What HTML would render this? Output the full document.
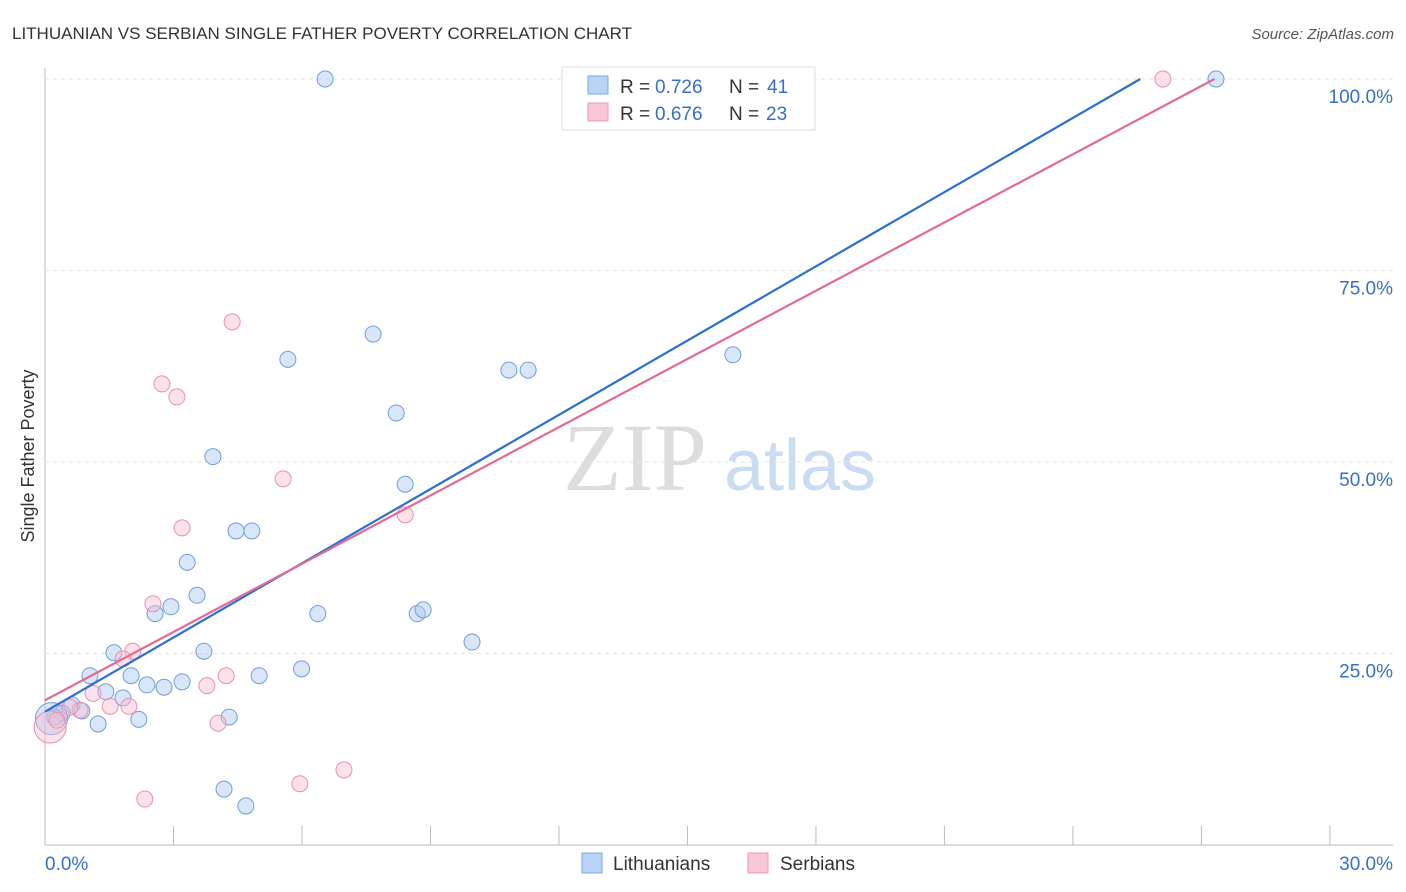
<!DOCTYPE html>
<html><head><meta charset="utf-8"><style>
body{margin:0;background:#fff;font-family:"Liberation Sans",sans-serif;}
#c{position:relative;width:1406px;height:892px;overflow:hidden}
</style></head><body>
<div id="c">
<svg id="s" width="1406" height="892">
<text x="12" y="39" font-size="17" fill="#333">LITHUANIAN VS SERBIAN SINGLE FATHER POVERTY CORRELATION CHART</text>
<text x="1394" y="39" font-size="15" fill="#555" text-anchor="end" font-style="italic">Source: ZipAtlas.com</text>
<text x="635" y="490" font-size="96" fill="#ddd" font-family="Liberation Serif" text-anchor="middle">ZIP</text>
<text x="800" y="490" font-size="72" fill="#c9dcf2" text-anchor="middle">atlas</text>
<text transform="translate(34,456) rotate(-90)" font-size="18" fill="#333" text-anchor="middle">Single Father Poverty</text>
<g id="grid"></g><g id="pts"></g><g id="lines"></g>
<g>
<rect x="562" y="67" width="253" height="63" fill="#fff" stroke="#ddd"/>
<rect x="588" y="76" width="20" height="18" fill="#b8d3f5" stroke="#7aa8e3"/>
<rect x="588" y="103" width="20" height="18" fill="#f9c6d6" stroke="#ee9ab4"/>
<text x="620" y="93" font-size="19" fill="#333">R =</text>
<text x="655" y="93" font-size="19" fill="#3570c8">0.726</text>
<text x="729" y="93" font-size="19" fill="#333">N =</text>
<text x="767" y="93" font-size="19" fill="#3570c8">41</text>
<text x="620" y="120" font-size="19" fill="#333">R =</text>
<text x="655" y="120" font-size="19" fill="#3570c8">0.676</text>
<text x="729" y="120" font-size="19" fill="#333">N =</text>
<text x="766" y="120" font-size="19" fill="#3570c8">23</text>
</g>
<g>
<rect x="582" y="853" width="20" height="20" fill="#b8d3f5" stroke="#7aa8e3"/>
<text x="613" y="870" font-size="19" fill="#333">Lithuanians</text>
<rect x="748" y="853" width="20" height="20" fill="#f9c6d6" stroke="#ee9ab4"/>
<text x="780" y="870" font-size="19" fill="#333">Serbians</text>
</g>
</svg></div>
<script>
const xTicks=[0,3,6,9,12,15,18,21,24,27,30];
const yTicks=[25,50,75,100];
const litX=[6.54,27.34,7.66,5.67,10.83,11.28,16.06,8.2,3.92,8.41,4.46,4.83,3.32,3.55,2.94,2.57,6.37,8.69,8.83,9.97,3.71,1.61,5.99,1.05,2.01,5.0,2.38,2.78,3.2,1.42,1.82,0.63,0.86,0.4,0.23,4.3,2.19,1.24,4.18,4.69,0.15];
const litY=[100,100,66.7,63.4,62.0,62.0,64.0,56.4,50.7,47.1,41.0,41.0,36.9,32.6,31.1,30.2,30.2,30.2,30.7,26.5,25.3,25.1,23.0,22.1,22.1,22.1,20.9,20.6,21.3,20.0,19.2,18.3,17.5,17.2,16.7,16.7,16.4,15.8,7.3,5.1,16.5];
const serX=[26.1,4.37,2.73,3.08,5.56,3.2,8.41,2.52,2.05,1.82,4.23,3.78,1.12,1.52,1.96,0.82,4.04,0.12,6.98,5.95,2.33,0.58,0.28];
const serY=[100,68.3,60.2,58.5,47.8,41.4,43.1,31.5,25.3,24.3,22.1,20.8,19.8,18.1,18.1,17.6,15.9,15.4,9.8,8.0,6.0,18.0,16.3];
const litLine=[17.4,3.23], serLine=[18.9,2.97];
const X=v=>45+v*42.83, Y=v=>845-v*7.66;
const NS="http://www.w3.org/2000/svg";
function mk(t,a,p){const e=document.createElementNS(NS,t);for(const k in a)e.setAttribute(k,a[k]);p.appendChild(e);return e;}
const g=document.getElementById('grid');
let ax=mk('line',{x1:45,x2:1393,y1:845,y2:845,stroke:'#bbb'},g);


let ay=mk('line',{x1:45,x2:45,y1:68,y2:845,stroke:'#bbb'},g);


xTicks.forEach((t,i)=>{if(i==0)return;const l=mk('line',{x1:X(t),x2:X(t),y1:826,y2:845,stroke:'#bbb'},g);

});
yTicks.forEach(t=>{const l=mk('line',{x1:45,x2:1393,y1:Y(t),y2:Y(t),stroke:'#e3e3e3','stroke-dasharray':'4,4'},g);


const tx=mk('text',{x:1393,y:Y(t)+24,'font-size':19,fill:'#3570c8','text-anchor':'end'},g);tx.textContent=t.toFixed(1)+'%';

});
[[45,'start','0.0%'],[1393,'end','30.0%']].forEach(a=>{const tx=mk('text',{x:a[0],y:870,'font-size':19,fill:'#3570c8','text-anchor':a[1]},g);tx.textContent=a[2];

});
const p=document.getElementById('pts');
function dots(xs,ys,f,s,n){xs.forEach((x,i)=>{const big=(i==xs.length-1&&n=='lithuanian-point')||(x<0.2&&n=='serbian-point');
const c=mk('circle',{cx:X(x),cy:Y(ys[i]),r:big?16:8,fill:f,'fill-opacity':0.45,stroke:s,'stroke-width':1},p);

});}
dots(litX,litY,'#a9c8f0','#6e9fdc','lithuanian-point');
dots(serX,serY,'#f7bcd0','#e990ad','serbian-point');
const L=document.getElementById('lines');
function tl(a,c,n,xe){const l=mk('line',{x1:X(0),y1:Y(a[0]),x2:X(xe),y2:Y(a[0]+a[1]*xe),stroke:c,'stroke-width':2.2},L);

}
tl(litLine,'#2b6fd1','lithuanian-trendline',(100-litLine[0])/litLine[1]);
tl(serLine,'#e46a92','serbian-trendline',(100-serLine[0])/serLine[1]);
</script>
</body></html>
